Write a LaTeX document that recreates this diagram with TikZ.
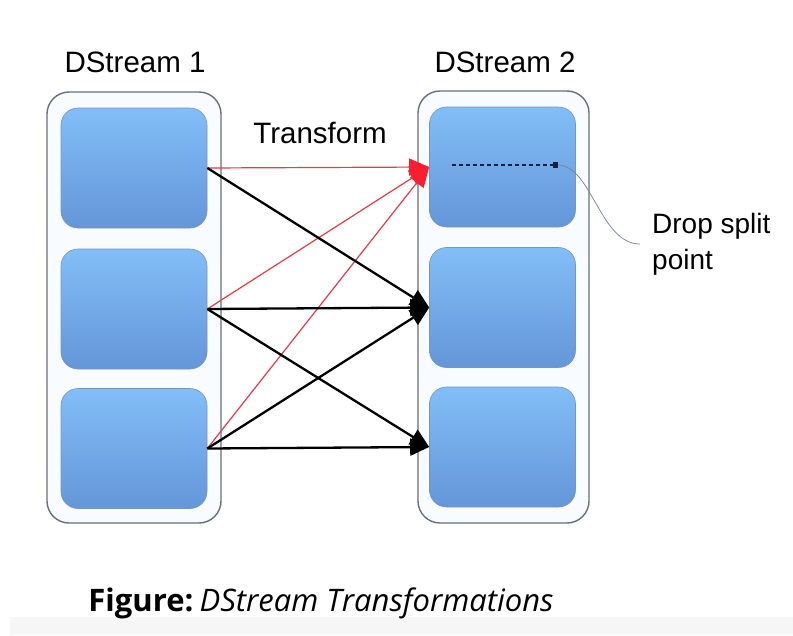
\documentclass[tikz,border=0pt]{standalone}
\usepackage{fontspec}
\setmainfont{Liberation Sans}
\newfontfamily\capfont{Open Sans}
\usetikzlibrary{arrows.meta}

\definecolor{streamline}{RGB}{105,110,125}
\definecolor{streamfill}{RGB}{248,251,255}
\definecolor{rddtop}{RGB}{130,190,247}
\definecolor{rddbot}{RGB}{100,150,216}
\definecolor{rddline}{RGB}{118,148,196}
\definecolor{xformred}{RGB}{228,60,72}
\definecolor{xformtip}{RGB}{250,30,48}
\definecolor{splitnavy}{RGB}{20,30,70}
\definecolor{calloutgray}{RGB}{120,130,150}
\definecolor{bandgray}{RGB}{246,246,246}

\tikzset{
  stream/.style={draw=streamline, line width=1.4pt, fill=streamfill,
    rounded corners=22pt, inner sep=0pt},
  rdd/.style={draw=rddline, line width=0.6pt, top color=rddtop, bottom color=rddbot,
    rounded corners=17pt, inner sep=0pt, minimum width=146pt, minimum height=120pt},
  title/.style={font=\fontsize{29.5}{34}\selectfont, inner sep=0pt},
  redarrow/.style={draw=xformred, line width=1.2pt,
    -{Triangle[length=20pt, width=17pt, color=xformtip, fill=xformtip]}},
  blackarrow/.style={draw=black, line width=2.3pt,
    -{Triangle[length=19pt, width=17pt]}},
}

\begin{document}
\begin{tikzpicture}[x=1pt, y=-1pt]
  \useasboundingbox (0,0) rectangle (793,635);
  \fill[white] (0,0) rectangle (793,635);
  \fill[bandgray] (10,617) rectangle (793,635);

  % the two DStreams
  \node[stream, minimum width=174pt, minimum height=431pt] (s1) at (134,307.5) {};
  \node[stream, minimum width=171pt, minimum height=432pt] (s2) at (503.5,307) {};

  % RDD batches of each DStream
  \node[rdd] (a1) at (134,168) {};
  \node[rdd] (a2) at (134,309) {};
  \node[rdd] (a3) at (134,448.5) {};
  \node[rdd] (b1) at (502.5,167) {};
  \node[rdd] (b2) at (502.5,307.5) {};
  \node[rdd] (b3) at (502.5,447) {};

  % stream titles
  \node[title] (t1) at (135,62) {DStream 1};
  \node[title] (t2) at (505,62) {DStream 2};
  \node[title] (tr) at (320,133) {Transform};

  % transformations
  \draw[redarrow] (a1.east) -- (b1.west);
  \draw[redarrow] (a2.east) -- (b1.west);
  \draw[redarrow] (a3.east) -- (b1.west);
  \draw[blackarrow] (a1.east) -- (b2.west);
  \draw[blackarrow] (a2.east) -- (b2.west);
  \draw[blackarrow] (a3.east) -- (b2.west);
  \draw[blackarrow] (a2.east) -- (b3.west);
  \draw[blackarrow] (a3.east) -- (b3.west);

  % drop split point
  \coordinate (dsa) at (452,165);
  \coordinate (dsb) at (558,165);
  \draw[splitnavy, line width=1.6pt, dash pattern=on 4pt off 3pt,
        -{Square[length=5pt, width=6pt]}] (dsa) -- (dsb);
  \node[font=\fontsize{28}{36}\selectfont, align=left, anchor=west,
        inner xsep=12pt, inner ysep=0pt] (dsl) at (640,244) {Drop split\\point};
  \draw[calloutgray, line width=0.7pt] (dsl.west) .. controls (600,244) and (592,166) .. (dsb);

  % caption
  \node[font=\fontsize{31}{36}\selectfont, inner sep=0pt] (cap) at (321,603)
    {\capfont{\bfseries Figure:}\hspace{0.2em}{\itshape DStream Transformations}};
\end{tikzpicture}
\end{document}
